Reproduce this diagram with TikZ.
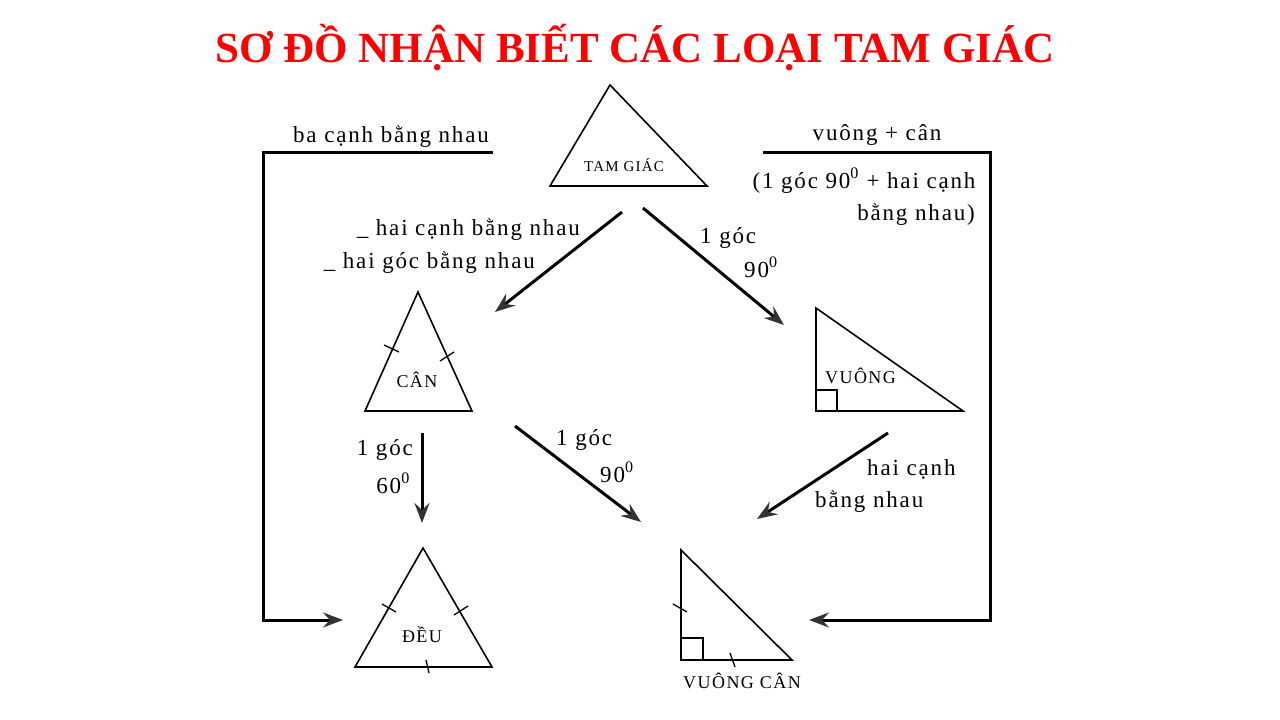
\documentclass[tikz,border=0pt]{standalone}
\usepackage{fontspec}
\setmainfont{Liberation Serif}
\newfontfamily\spacedfont[LetterSpace=8]{Liberation Serif}
\usetikzlibrary{arrows.meta}

\begin{document}
\begin{tikzpicture}
[x=1pt,y=-1pt,
tri/.style={draw=black,line width=1.6pt},
tickmark/.style={draw=black,line width=1.3pt},
arr/.style={line width=3pt,-{Stealth[length=20pt,width=15pt,inset=7pt,color=black!80]}},
lbl/.style={inner sep=0pt,font=\spacedfont\fontsize{23}{26}\selectfont},
tname/.style={inner sep=0pt,anchor=base,font=\spacedfont\fontsize{18}{20}\selectfont}]
\fill[white] (0,0) rectangle (1280,720);
\useasboundingbox (0,0) rectangle (1280,720);

\node (title) at (635,62) [anchor=base,inner sep=0pt,text=red,font=\bfseries\fontsize{43}{43}\selectfont] {SƠ ĐỒ NHẬN BIẾT CÁC LOẠI TAM GIÁC};

% triangles
\draw[tri] (610,85) -- (550,186) -- (707,186) -- cycle;
\draw[tri] (418,292) -- (365,411) -- (472,411) -- cycle;
\draw[tri] (423,548) -- (355,667) -- (492,667) -- cycle;
\draw[tri] (816,308) -- (816,411) -- (963,411) -- cycle;
\draw[tri] (816,390) -- (837,390) -- (837,411);
\draw[tri] (681,550) -- (681,660) -- (792,660) -- cycle;
\draw[tri] (681,638) -- (703,638) -- (703,660);

% ticks
\draw[tickmark] (384,345) -- (399,352);
\draw[tickmark] (440,361) -- (454,352);
\draw[tickmark] (382,604) -- (396,612);
\draw[tickmark] (454,615) -- (468,606);
\draw[tickmark] (426,660) -- (429,673);
\draw[tickmark] (673,604) -- (687,612);
\draw[tickmark] (730,653) -- (735,667);

\node[tname] (tamgiac) at (624,171) [font=\spacedfont\fontsize{15}{17}\selectfont] {TAM GIÁC};
\node[tname] (can) at (417,387) {CÂN};
\node[tname] (deu) at (422,642) {ĐỀU};
\node[tname,anchor=base west] (vuong) at (825,383) {VUÔNG};
\node[tname] (vuongcan) at (742,688) {VUÔNG CÂN};

% connectors
\coordinate (tgL) at (622,212);
\coordinate (canT) at (495,312);
\coordinate (tgR) at (643,208);
\coordinate (vuongT) at (784,325);
\coordinate (canB) at (422,433);
\coordinate (deuT) at (422,523);
\coordinate (canR) at (515,426);
\coordinate (vcT) at (641,522);
\coordinate (vuongB) at (888,433);
\coordinate (vcR) at (757,519);
\coordinate (baS) at (493,152);
\coordinate (baA) at (263,152);
\coordinate (baB) at (263,620);
\coordinate (deuL) at (343,620);
\coordinate (vcS) at (763,152);
\coordinate (vcA) at (990,152);
\coordinate (vcB) at (990,620);
\coordinate (vcE) at (809,620);

\draw[arr] (tgL) -- (canT);
\draw[arr] (tgR) -- (vuongT);
\draw[arr] (canB) -- (deuT);
\draw[arr] (canR) -- (vcT);
\draw[arr] (vuongB) -- (vcR);
\draw[arr] (baS) -- (baA) -- (baB) -- (deuL);
\draw[arr] (vcS) -- (vcA) -- (vcB) -- (vcE);

% labels
\node[lbl,anchor=base] (ba) at (391,142) {ba cạnh bằng nhau};
\node[lbl,anchor=base east] (haicanh) at (580,235) {\_ hai cạnh bằng nhau};
\node[lbl,anchor=base east] (haigoc) at (535,268) {\_ hai góc bằng nhau};
\node[lbl,anchor=base west] (goc1) at (700,243) {1 góc};
\node[lbl,anchor=base west] (do1) at (744,277) {90\textsuperscript{0}};
\node[lbl,anchor=base] (vc) at (877,140) {vuông + cân};
\node[lbl,anchor=base] (vcnote) at (864,188) {(1 góc 90\textsuperscript{0} + hai cạnh};
\node[lbl,anchor=base east] (vcnote2) at (975,220) {bằng nhau)};
\node[lbl,anchor=base east] (goc2) at (413,455) {1 góc};
\node[lbl,anchor=base east] (do2) at (410,493) {60\textsuperscript{0}};
\node[lbl,anchor=base west] (goc3) at (556,445) {1 góc};
\node[lbl,anchor=base west] (do3) at (600,482) {90\textsuperscript{0}};
\node[lbl,anchor=base west] (hc) at (867,475) {hai cạnh};
\node[lbl,anchor=base west] (bn) at (815,507) {bằng nhau};
\end{tikzpicture}
\end{document}
